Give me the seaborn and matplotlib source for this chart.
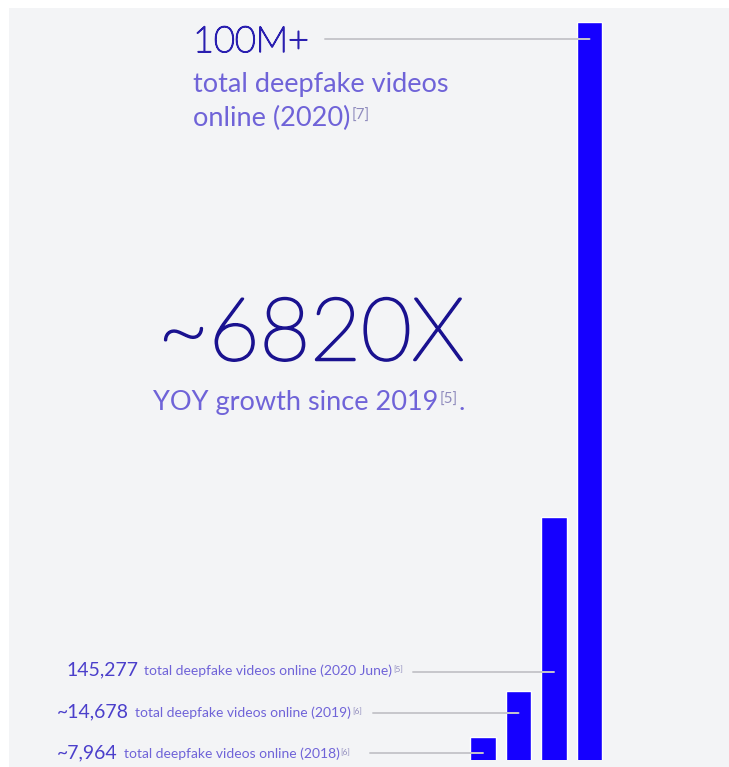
import matplotlib
matplotlib.use("Agg")
import matplotlib.pyplot as plt
from matplotlib.patches import Rectangle
from matplotlib.transforms import IdentityTransform
import matplotlib.patheffects as pe
import pandas as pd
import seaborn as sns

# Deepfake video counts by period
periods = ["2018", "2019", "2020 June", "2020"]
videos = [7964, 14678, 145277, 100_000_000]
value_labels = ["~7,964", "~14,678", "145,277", "100M+"]
descriptions = [
    "total deepfake videos online (2018)",
    "total deepfake videos online (2019)",
    "total deepfake videos online (2020 June)",
    "total deepfake videos",
]
desc_second_line = "online (2020)"
refs = ["[6]", "[6]", "[5]", "[7]"]
growth_label = "~6820X"
growth_text = "YOY growth since 2019"
growth_ref = "[5]"

W, H = 729, 767
BAR = "#1500ff"
PANEL = "#f3f4f6"
RULE = "#c6c6cb"
DARK = "#2a1fb0"
NAVY = "#1a1290"
MID = "#4b3fcb"
LIGHT = "#6f63d8"
REF = "#8f8bbd"

sns.set_theme(style="white")
plt.rcParams["font.family"] = ["Lato", "DejaVu Sans"]

fig = plt.figure(figsize=(W / 100, H / 100), dpi=100, facecolor="white")
fig.add_artist(Rectangle((9 / W, 0), 1 - 9 / W, (H - 8) / H,
                         transform=fig.transFigure, facecolor=PANEL,
                         edgecolor="none", zorder=0))

# Bar panel: four narrow bars on a log axis
slot = 35.5
left_px = 483 - slot / 2
ax = fig.add_axes([left_px / W, (H - 760) / H, 4 * slot / W, (760 - 22) / H])
ax.set_yscale("log")
df = pd.DataFrame({"period": periods, "videos": videos})
sns.barplot(data=df, x="period", y="videos", color=BAR, saturation=1,
            width=0.73, ax=ax, zorder=2)
ax.set_ylim(5900, 1e8)
ax.set_xlim(-0.5, 3.5)
ax.axis("off")
ax.patch.set_alpha(0)

# Leader rules from each caption into its bar
rule_y = [753, 713, 672, 39]
rule_x0 = [370, 373, 413, 325]
for i in range(len(periods)):
    ax.annotate("", xy=(i, H - rule_y[i]), xycoords=("data", "figure pixels"),
                xytext=(rule_x0[i], H - rule_y[i]), textcoords="figure pixels",
                arrowprops=dict(arrowstyle="-", color=RULE, lw=1.4,
                                shrinkA=0, shrinkB=0),
                annotation_clip=False, zorder=5)

renderer = fig.canvas.get_renderer()


def text_run(x, baseline, parts, effects=None):
    """Place text pieces one after another on a shared baseline (pixels from top)."""
    for s, size, color, rise, gap, weight in parts:
        t = fig.text(x, H - baseline + rise, s, fontsize=size, color=color,
                     ha="left", va="baseline", fontweight=weight,
                     transform=IdentityTransform())
        if effects:
            t.set_path_effects(effects)
        x = t.get_window_extent(renderer).x1 + gap
    return x


# Headline figure for 2020
text_run(193, 52, [(value_labels[3], 26, DARK, 0, 0, "light")],
         effects=[pe.withStroke(linewidth=1.1, foreground=DARK)])
text_run(193, 92, [(descriptions[3], 19.5, LIGHT, 0, 0, "normal")])
text_run(193, 126, [(desc_second_line, 19.5, LIGHT, 0, 1, "normal"),
                    (refs[3], 11, REF, 6, 0, "normal")])

# Growth callout: thin strokes thickened slightly
thin = [pe.withStroke(linewidth=1.8, foreground=NAVY)]
text_run(158, 360, [(growth_label, 63, NAVY, 0, 0, "light")], effects=thin)
text_run(153, 410, [(growth_text, 19.5, LIGHT, 0, 1, "normal"),
                    (growth_ref, 11, REF, 6, 1, "normal"),
                    (".", 19.5, LIGHT, 0, 0, "normal")])

# Smaller captions for the earlier counts
caption_pos = [(57, 758), (57, 717), (66, 675)]
for i, (x, base) in enumerate(caption_pos):
    text_run(x, base, [(value_labels[i], 14, MID, 0, 6, "normal"),
                       (descriptions[i], 10, LIGHT, 0, 1, "normal"),
                       (refs[i], 6, REF, 3, 0, "normal")])

fig.savefig("out.png", dpi=100, facecolor="white")
